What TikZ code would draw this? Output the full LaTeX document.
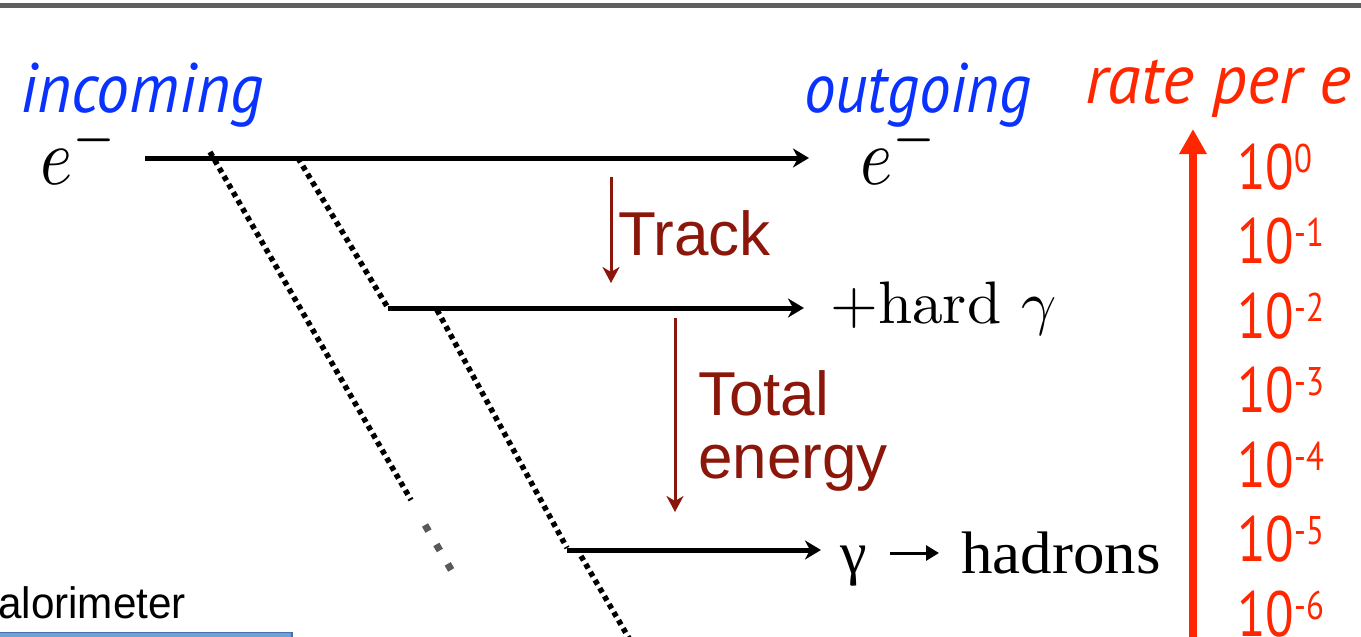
\documentclass[tikz,border=0pt]{standalone}
\usepackage{fontspec}
\newfontfamily\gillfont{PT Sans}
\newfontfamily\arialfont{Liberation Sans}
\newfontfamily\tmsfont{Liberation Serif}
\usetikzlibrary{arrows.meta}
\definecolor{inblue}{RGB}{10,50,255}
\definecolor{ratered}{RGB}{255,38,0}
\definecolor{darkred}{RGB}{139,22,10}
\definecolor{topgray}{RGB}{95,95,95}
\definecolor{barblue}{RGB}{112,160,214}
\definecolor{baredge}{RGB}{70,110,170}
\newcommand\ratelbl[1]{\scalebox{0.82}[1]{{\fontsize{64}{64}\selectfont 10}\raisebox{17pt}{\fontsize{40}{40}\selectfont #1}}}
\begin{document}
\begin{tikzpicture}[x=1pt,y=-1pt,
  lbl/.style={inner sep=0pt, anchor=base west},
  track/.style={line width=5pt, -{Stealth[length=16pt,width=19pt,inset=5pt]}},
  photon/.style={line width=5.5pt, dash pattern=on 5pt off 4.3pt},
  gdots/.style={line width=7pt, draw=black!65, dash pattern=on 7pt off 15.5pt},
  flow/.style={darkred, line width=3pt, -{Stealth[length=16pt,width=17pt,inset=5pt]}},
  headtext/.style={lbl, font=\gillfont\itshape\fontsize{70}{70}\selectfont},
  redtext/.style={lbl, text=darkred, font=\arialfont\fontsize{62}{63}\selectfont},
  ratetext/.style={lbl, text=ratered, font=\gillfont},
  serif/.style={lbl, font=\tmsfont\fontsize{60}{60}\selectfont},
]
\useasboundingbox (0,0) rectangle (1361,637);
% top rule
\draw[topgray, line width=5pt] (0,5.5) -- (1361,5.5);

% headings
\node[headtext, text=inblue] (inc) at (20,112) {\scalebox{0.935}[1]{incoming}};
\node[headtext, text=inblue] (outg) at (804,112) {\scalebox{0.9}[1]{outgoing}};
\node[headtext, text=ratered] (rate) at (1085,103) {\scalebox{0.98}[1]{rate per e}};

% particles
\node[lbl] (ein) at (40,184) {\scalebox{6.9}[8.1]{$e^-$}};
\node[lbl] (eout) at (860,184) {\scalebox{6.9}[8.1]{$e^-$}};
\node[lbl] (hard) at (830,323) {\scalebox{6.15}[6]{$+\mathrm{hard}\ \gamma$}};
\node[serif] (gam) at (840,573) {γ};
\node[serif] (had) at (961,573) {\scalebox{1.05}[1]{hadrons}};
\draw[line width=3pt, -{Triangle[length=13pt,width=15pt]}] ([xshift=23pt,yshift=20pt]gam.base east) -- ([xshift=-22pt,yshift=20pt]had.base west);

% horizontal tracks
\coordinate (l1s) at (145,158); \coordinate (l1e) at (809,158);
\coordinate (l2s) at (388,308); \coordinate (l2e) at (804,308);
\coordinate (l3s) at (567,550); \coordinate (l3e) at (821,550);
\draw[track] (l1s) -- (l1e);
\draw[track] (l2s) -- (l2e);
\draw[track] (l3s) -- (l3e);

% photon lines
\coordinate (a1) at (210,152); \coordinate (a2) at (411,500);
\coordinate (b1) at (298,158); \coordinate (b2) at (388,308);
\coordinate (c1) at (437,310); \coordinate (c2) at (567,548);
\coordinate (d1) at (581,556); \coordinate (d2) at (630,640);
\coordinate (g1) at (425,525); \coordinate (g2) at (453,573);
\draw[photon] (a1) -- (a2);
\draw[photon] (b1) -- (b2);
\draw[photon] (c1) -- (c2);
\draw[photon] (d1) -- (d2);
\draw[gdots] (g1) -- (g2);

% selection arrows
\coordinate (t1) at (611,177); \coordinate (t2) at (611,283);
\draw[flow] (t1) -- (t2);
\node[redtext] (trk) at (618,255) {Track};
\coordinate (e1) at (675,318); \coordinate (e2) at (675,512);
\draw[flow] (e1) -- (e2);
\node[redtext, align=left, anchor=north west] (tot) at (698,370) {Total\\energy};

% rate axis
\coordinate (r1) at (1193,642); \coordinate (r2) at (1193,129);
\draw[ratered, line width=8pt, -{Triangle[length=25pt,width=26pt]}] (r1) -- (r2);
\node[ratetext] (p0) at (1237,189) {\ratelbl{0}};
\node[ratetext] (p1) at (1237,263.5) {\ratelbl{-1}};
\node[ratetext] (p2) at (1237,338) {\ratelbl{-2}};
\node[ratetext] (p3) at (1237,412.5) {\ratelbl{-3}};
\node[ratetext] (p4) at (1237,487) {\ratelbl{-4}};
\node[ratetext] (p5) at (1237,561.5) {\ratelbl{-5}};
\node[ratetext] (p6) at (1237,636) {\ratelbl{-6}};

% calorimeter fragment
\node[lbl] (cal) at (-2,618) {\scalebox{0.96}[1]{\arialfont\fontsize{44}{44}\selectfont alorimeter}};
\fill[barblue] (0,632) rectangle (292,645);
\draw[baredge, line width=1.2pt] (0,632.5) -- (292,632.5) -- (292,645);
\end{tikzpicture}
\end{document}
